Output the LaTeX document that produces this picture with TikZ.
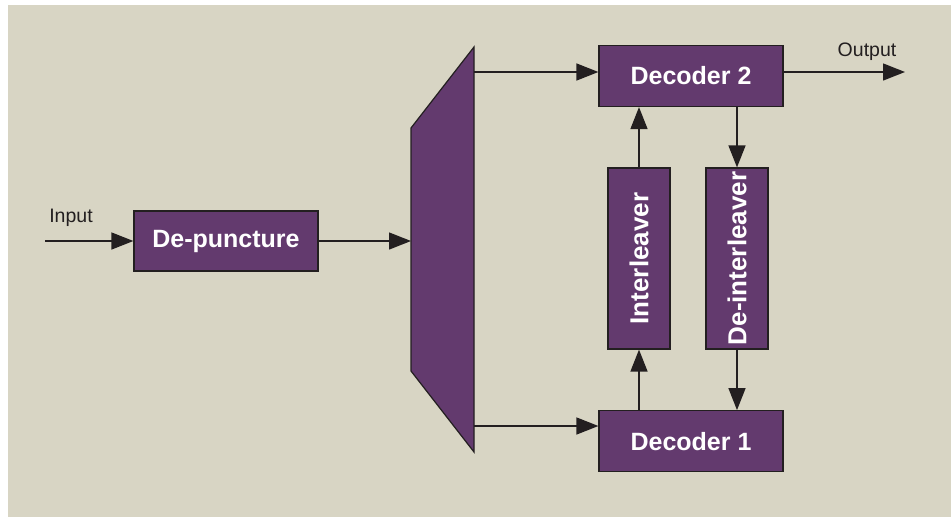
\documentclass[tikz,border=0pt]{standalone}
\usepackage{fontspec}
\setmainfont{Liberation Sans}
\usepackage{xcolor}
\usetikzlibrary{arrows.meta,positioning}

\definecolor{bgbeige}{HTML}{D8D5C4}
\definecolor{blockpurple}{HTML}{633A6E}
\definecolor{edgegray}{HTML}{231F20}

\begin{document}
\begin{tikzpicture}[
    x=1pt, y=-1pt,
    block/.style={rectangle, draw=edgegray, line width=1.2pt, fill=blockpurple, text=white,
        font=\fontsize{25}{28}\selectfont\bfseries, inner sep=0pt},
    decbox/.style={block, minimum width=184pt, minimum height=61pt},
    vbox/.style={block, minimum width=62pt, minimum height=181pt,
        font=\fontsize{26}{28}\selectfont\bfseries},
    sig/.style={font=\fontsize{19.5}{22}\selectfont, text=edgegray, inner sep=0pt, anchor=base},
    arrow/.style={line width=1.4pt, draw=edgegray, -{Triangle[length=22pt,width=17pt]}}
]

\useasboundingbox (0,0) rectangle (951,517);
\fill[bgbeige] (8,5) rectangle (951,517);

% Input
\coordinate (in) at (45,241);
\node (inlabel) [sig] at (71,222) {Input};
\node (depunct) [block, minimum width=184pt, minimum height=60pt] at (226,241) {De-puncture};
\draw [arrow] (in) -- (depunct);

% Demultiplexer
\draw[draw=edgegray, line width=1.2pt, fill=blockpurple]
    (411,128) -- (474,47) -- (474,452) -- (411,371) -- cycle;
\coordinate (muxin) at (411,241);
\coordinate (muxa) at (474,72);
\coordinate (muxb) at (474,426);
\draw [arrow] (depunct) -- (muxin);

% Decoders
\node (dec2) [decbox] at (691,76) {Decoder 2};
\node (dec1) [decbox, below=303pt of dec2] {Decoder 1};
\draw [arrow] (muxa) -- (muxa -| dec2.west);
\draw [arrow] (muxb) -- (muxb -| dec1.west);

% Feedback loop
\node (inter) [vbox] at (639,258.5) {\rotatebox{90}{Interleaver}};
\node (deinter) [vbox] at (737,258.5) {\rotatebox{90}{De-interleaver}};
\draw [arrow] (inter.south |- dec1.north) -- (inter.south);
\draw [arrow] (inter.north) -- (inter.north |- dec2.south);
\draw [arrow] (deinter.north |- dec2.south) -- (deinter.north);
\draw [arrow] (deinter.south) -- (deinter.south |- dec1.north);

% Output
\coordinate (out) at (905,72);
\node (outlabel) [sig] at (867,56) {Output};
\draw [arrow] (dec2.east |- out) -- (out);

\end{tikzpicture}
\end{document}
